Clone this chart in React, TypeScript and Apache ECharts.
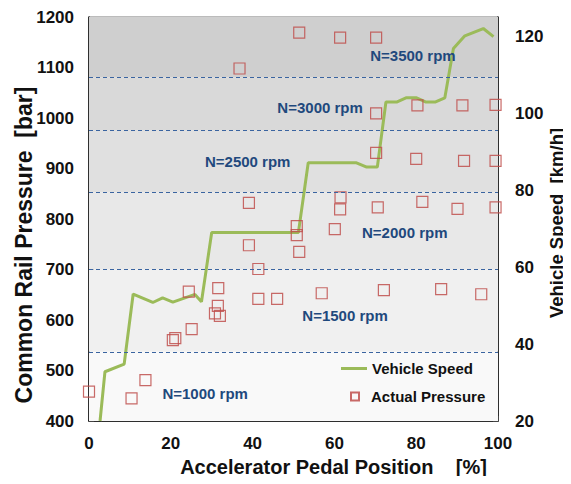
import React, { useEffect, useRef } from "react";
import * as echarts from "echarts";

// Vehicle speed trace: pedal position [%] vs speed [km/h]
const speedX = [2.7, 3.9, 8.6, 10.8, 15.6, 18.0, 20.5, 25.9, 27.5, 30.0, 51.2, 53.6, 65.4, 67.9, 70.5, 72.6, 75.2, 77.5, 80.1, 82.4, 84.6, 87.0, 89.1, 91.9, 96.4, 98.9];
const speedV = [20, 32.8, 34.8, 53, 50.8, 52, 50.9, 52.9, 51, 69, 69, 87.1, 87.1, 86, 86, 102.9, 102.9, 104, 104, 102.9, 102.9, 104, 116.8, 120.1, 122, 119.9];

// Actual rail pressure samples: pedal position [%] vs pressure [bar]
const pressX = [0, 10.4, 13.8, 20.5, 21.1, 25.1, 24.4, 30.8, 32.0, 31.5, 31.6, 36.8, 39.1, 39.1, 41.4, 41.4, 46.0, 50.8, 50.8, 51.4, 51.4, 56.9, 60.1, 61.5, 61.4, 61.4, 70.2, 70.2, 70.2, 70.6, 72.1, 80.0, 80.3, 81.5, 86.1, 90.1, 91.3, 91.7, 95.9, 99.4, 99.4, 99.4];
const pressY = [458, 445, 481, 560, 564, 582, 656, 613, 608, 628, 663, 1098, 832, 748, 701, 642, 642, 786, 768, 735, 1169, 653, 780, 843, 819, 1159, 1159, 1009, 931, 823, 659, 919, 1025, 834, 661, 820, 1025, 915, 651, 1026, 915, 823];

// Engine-speed regions (pressure boundaries, bar)
const bandEdges = [400, 537, 700, 853, 976, 1080, 1200];
const rpmLabels = ["N=1000 rpm", "N=1500 rpm", "N=2000 rpm", "N=2500 rpm", "N=3000 rpm", "N=3500 rpm"];
const rpmLabelX = [28.4, 62.6, 77.2, 38.8, 56.5, 79.2];
const rpmLabelP = [455, 608, 774, 913, 1020, 1123];

const bandColors = ["#f9f9f9", "#f0f0f0", "#e8e8e8", "#e0e0e0", "#d9d9d9", "#cfcfcf"];
const FONT = "Liberation Sans, Arial, sans-serif";

export default function App() {
  const ref = useRef<HTMLDivElement>(null);
  useEffect(() => {
    if (!ref.current) return;
    const chart = echarts.init(ref.current, null, { renderer: "svg" });
    const areas = bandColors.map((c, i) => [
      { yAxis: bandEdges[i], itemStyle: { color: c } },
      { yAxis: bandEdges[i + 1] },
    ]);
    const lines = bandEdges.slice(1, -1).map((v) => ({ yAxis: v }));
    const points = rpmLabels.map((n, i) => ({
      name: n,
      coord: [rpmLabelX[i], rpmLabelP[i]],
    }));
    const legendText = { fontFamily: FONT, fontWeight: "bold", fontSize: 15, color: "#111" };
    const tickLabel = { fontFamily: FONT, fontWeight: "bold", fontSize: 17, color: "#111" };
    chart.setOption({
      animation: false,
      textStyle: { fontFamily: FONT },
      grid: {
        left: 89,
        right: 73,
        top: 17,
        bottom: 63,
        containLabel: false,
        outerBoundsMode: "none",
        show: true,
        borderColor: "#777",
        borderWidth: 1,
        backgroundColor: "transparent",
      },
      legend: [
        {
          orient: "vertical",
          left: 336,
          top: 356,
          icon: "rect",
          itemWidth: 26,
          itemHeight: 3,
          textStyle: legendText,
          data: ["Vehicle Speed"],
        },
        {
          orient: "vertical",
          left: 345,
          top: 384,
          icon: "rect",
          itemWidth: 8,
          itemHeight: 8,
          textStyle: { ...legendText, padding: [0, 0, 0, 7] },
          data: ["Actual Pressure"],
        },
      ],
      xAxis: {
        type: "value",
        min: 0,
        max: 100,
        interval: 20,
        name: "Accelerator Pedal Position    [%]",
        nameLocation: "middle",
        nameGap: 36,
        nameMoveOverlap: false,
        nameTextStyle: { fontFamily: FONT, fontWeight: "bold", fontSize: 20, color: "#111", padding: [0, 0, 0, 80] },
        axisLine: { lineStyle: { color: "#000", width: 1.5 } },
        axisTick: { inside: true, length: 5, lineStyle: { color: "#444" } },
        axisLabel: { ...tickLabel, margin: 14 },
        splitLine: { show: false },
      },
      yAxis: [
        {
          type: "value",
          min: 400,
          max: 1200,
          interval: 100,
          name: "Common Rail Pressure  [bar]",
          nameLocation: "middle",
          nameGap: 54,
          nameMoveOverlap: false,
          nameTextStyle: { fontFamily: FONT, fontWeight: "bold", fontSize: 23, color: "#111", padding: [0, 52, 0, 0] },
          axisLine: { show: true, lineStyle: { color: "#000", width: 1.5 } },
          axisTick: { inside: true, length: 5, lineStyle: { color: "#444" } },
          axisLabel: { ...tickLabel, margin: 15, formatter: (v: number) => String(v) },
          splitLine: { show: false },
        },
        {
          type: "value",
          min: 20,
          max: 125,
          interval: 20,
          position: "right",
          name: "Vehicle Speed  [km/h]",
          nameLocation: "middle",
          nameGap: 49,
          nameMoveOverlap: false,
          nameTextStyle: { fontFamily: FONT, fontWeight: "bold", fontSize: 18.5, color: "#111", padding: [0, 8, 0, 0] },
          axisLine: { show: true, lineStyle: { color: "#000", width: 1.5 } },
          axisTick: { inside: true, length: 5, lineStyle: { color: "#444" } },
          axisLabel: {
            ...tickLabel,
            margin: 17,
            formatter: (v: number) => (v % 20 === 0 ? String(v) : ""),
          },
          splitLine: { show: false },
        },
      ],
      series: [
        {
          name: "bands",
          type: "line",
          yAxisIndex: 0,
          data: [],
          z: 0,
          silent: true,
          markArea: { silent: true, data: areas },
          markLine: {
            silent: true,
            symbol: "none",
            label: { show: false },
            lineStyle: { color: "#3a64a0", type: [4, 3], width: 1 },
            data: lines,
          },
          markPoint: {
            symbol: "circle",
            symbolSize: 1,
            itemStyle: { color: "rgba(0,0,0,0)" },
            label: {
              show: true,
              position: "inside",
              formatter: "{b}",
              fontFamily: FONT,
              fontWeight: "bold",
              fontSize: 15,
              color: "#1f497d",
            },
            data: points,
          },
        },
        {
          name: "Vehicle Speed",
          type: "line",
          yAxisIndex: 1,
          z: 3,
          symbol: "none",
          lineStyle: { color: "#9bbb59", width: 3 },
          itemStyle: { color: "#9bbb59" },
          data: speedX.map((x, i) => [x, speedV[i]]),
        },
        {
          name: "Actual Pressure",
          type: "scatter",
          yAxisIndex: 0,
          z: 4,
          symbol: "rect",
          symbolSize: 11,
          itemStyle: { color: "rgba(0,0,0,0)", borderColor: "#c0504d", borderWidth: 1.2, opacity: 0.85 },
          data: pressX.map((x, i) => [x, pressY[i]]),
        },
      ],
    });
    return () => chart.dispose();
  }, []);
  return <div ref={ref} style={{ width: 571, height: 484, margin: -8 }} />;
}
